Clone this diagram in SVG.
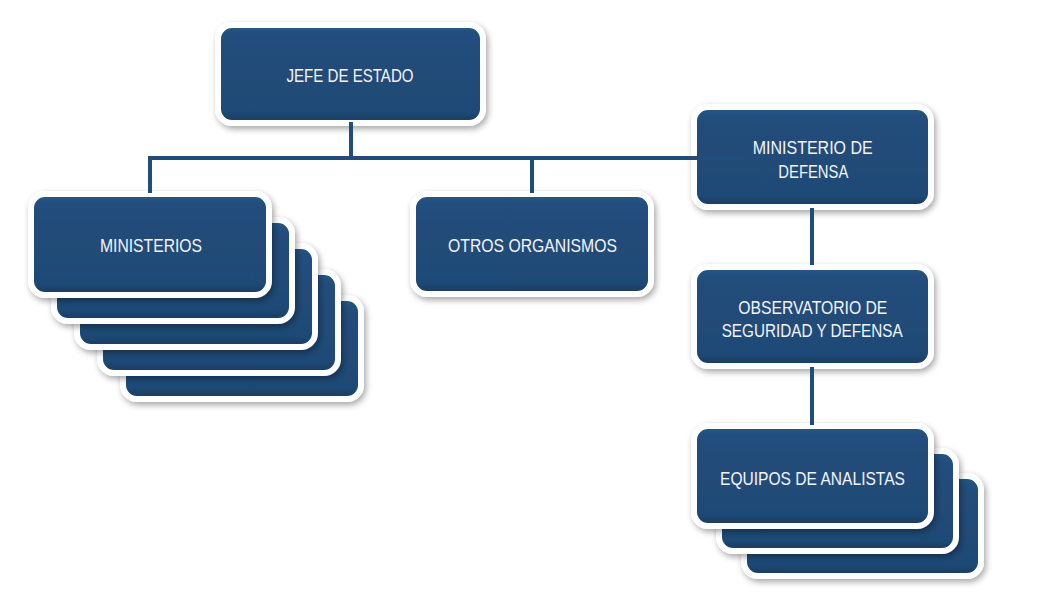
<svg xmlns="http://www.w3.org/2000/svg" width="1048" height="616" viewBox="0 0 1048 616">
  <defs>
    <linearGradient id="fillGrad" x1="0" y1="0" x2="0" y2="1">
      <stop offset="0" stop-color="#27578a"/>
      <stop offset="0.12" stop-color="#214d7b"/>
      <stop offset="0.88" stop-color="#1f4a76"/>
      <stop offset="1" stop-color="#173a60"/>
    </linearGradient>
    <filter id="shadow" x="-10%" y="-15%" width="125%" height="140%">
      <feDropShadow dx="2" dy="3" stdDeviation="3" flood-color="#000" flood-opacity="0.35"/>
    </filter>
  </defs>
  <style>
    .box { fill: url(#fillGrad); stroke: #ffffff; stroke-width: 6; filter: url(#shadow); }
    .lbl { font-family: "Liberation Sans", Arial, sans-serif; font-size: 18px; fill: #f2f5f9; text-anchor: middle; }
    .conn { stroke: #1f4e7c; stroke-width: 4; fill: none; }
  </style>
  <rect width="1048" height="616" fill="#ffffff"/>

  <g id="node-jefe">
    <rect class="box" x="218" y="25" width="265" height="98" rx="14"/>
    <text class="lbl" x="350" y="82" textLength="127" lengthAdjust="spacingAndGlyphs">JEFE DE ESTADO</text>
  </g>

  <g id="node-ministerios">
    <rect class="box" x="123" y="298" width="238" height="101" rx="14"/>
    <rect class="box" x="100" y="272" width="238" height="101" rx="14"/>
    <rect class="box" x="77" y="246" width="238" height="101" rx="14"/>
    <rect class="box" x="54" y="220" width="238" height="101" rx="14"/>
    <rect class="box" x="31" y="194" width="238" height="101" rx="14"/>
    <text class="lbl" x="151" y="252" textLength="102" lengthAdjust="spacingAndGlyphs">MINISTERIOS</text>
  </g>

  <g id="node-otros">
    <rect class="box" x="413" y="194" width="238" height="100" rx="14"/>
    <text class="lbl" x="532.5" y="252" textLength="169" lengthAdjust="spacingAndGlyphs">OTROS ORGANISMOS</text>
  </g>

  <g id="node-mindef">
    <rect class="box" x="694" y="107" width="237" height="100" rx="14"/>
    <text class="lbl" x="812.7" y="153.5" textLength="120" lengthAdjust="spacingAndGlyphs">MINISTERIO DE</text>
    <text class="lbl" x="813.3" y="177.5" textLength="70" lengthAdjust="spacingAndGlyphs">DEFENSA</text>
  </g>

  <g id="node-observatorio">
    <rect class="box" x="694" y="267" width="237" height="99" rx="14"/>
    <text class="lbl" x="812.8" y="313.5" textLength="149" lengthAdjust="spacingAndGlyphs">OBSERVATORIO DE</text>
    <text class="lbl" x="812.2" y="337" textLength="181" lengthAdjust="spacingAndGlyphs">SEGURIDAD Y DEFENSA</text>
  </g>

  <g id="node-equipos">
    <rect class="box" x="744" y="476" width="237" height="100" rx="14"/>
    <rect class="box" x="719" y="451" width="237" height="100" rx="14"/>
    <rect class="box" x="694" y="426" width="237" height="100" rx="14"/>
    <text class="lbl" x="812.5" y="485" textLength="185" lengthAdjust="spacingAndGlyphs">EQUIPOS DE ANALISTAS</text>
  </g>

  <g id="connectors">
    <line class="conn" x1="351" y1="122" x2="351" y2="158"/>
    <line class="conn" x1="148" y1="158" x2="742" y2="158"/>
    <line class="conn" x1="150" y1="156" x2="150" y2="193"/>
    <line class="conn" x1="532" y1="156" x2="532" y2="193"/>
    <line class="conn" x1="812" y1="208" x2="812" y2="265"/>
    <line class="conn" x1="812" y1="367" x2="812" y2="425"/>
  </g>
</svg>
